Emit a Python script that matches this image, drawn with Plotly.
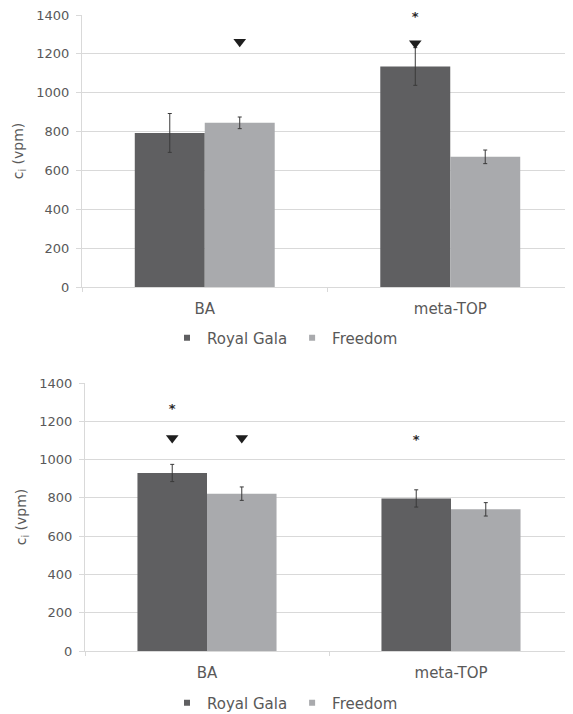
import plotly.graph_objects as go

# ---------------- data ----------------
categories = ["BA", "meta-TOP"]
series_names = ["Royal Gala", "Freedom"]

# top panel
royal_gala_top = [793, 1135]
royal_gala_top_err = [100, 97]
freedom_top = [845, 670]
freedom_top_err = [30, 35]
# significance markers (y positions), None = no marker
tri_rg_top = [None, 1255]
tri_fr_top = [1262, None]
star_rg_top = [None, 1385]

# bottom panel
royal_gala_bot = [930, 797]
royal_gala_bot_err = [45, 45]
freedom_bot = [822, 740]
freedom_bot_err = [35, 35]
tri_rg_bot = [1113, None]
tri_fr_bot = [1113, None]
star_rg_bot = [1260, 1098]

y_ticks = [0, 200, 400, 600, 800, 1000, 1200, 1400]

# ---------------- style ----------------
DARK = "#5f5f61"
LIGHT = "#a9aaad"
GRID = "#d9d9d9"
TXT = "#595959"
FONT = "DejaVu Sans"
BARGAP = 0.43
bar_w = (1 - BARGAP) / 2

xpos = list(range(len(categories)))

fig = go.Figure()


def keep(xs, ys):
    pairs = [(x, y) for x, y in zip(xs, ys) if y is not None]
    return [p[0] for p in pairs], [p[1] for p in pairs]


def add_panel(xa, ya, rg, rg_err, fr, fr_err, tri_rg, tri_fr, star_rg, legend):
    for k, (name, vals, errs, col) in enumerate(
        [(series_names[0], rg, rg_err, DARK), (series_names[1], fr, fr_err, LIGHT)]
    ):
        fig.add_trace(go.Bar(
            x=xpos, y=vals, name=name, marker=dict(color=col, line=dict(width=0)),
            error_y=dict(type="data", array=errs, visible=True, color="#3a3a3a",
                         thickness=1, width=2),
            xaxis=xa, yaxis=ya, showlegend=False, offsetgroup=str(k),
        ))
        # legend entry (small square)
        fig.add_trace(go.Scatter(
            x=[None], y=[None], mode="markers", name=name,
            marker=dict(symbol="square", size=6, color=col),
            xaxis=xa, yaxis=ya, legend=legend, showlegend=True,
        ))
    # significance markers
    for k, tri in enumerate([tri_rg, tri_fr]):
        xs, ys = keep([x + (k - 0.5) * bar_w for x in xpos], tri)
        if xs:
            fig.add_trace(go.Scatter(
                x=xs, y=ys, mode="markers", cliponaxis=False,
                marker=dict(symbol="triangle-down", size=11, color="#1e1e1e"),
                xaxis=xa, yaxis=ya, showlegend=False, hoverinfo="skip",
            ))
    xs, ys = keep([x - 0.5 * bar_w for x in xpos], star_rg)
    fig.add_trace(go.Scatter(
        x=xs, y=ys, mode="text", text=["*"] * len(xs), cliponaxis=False,
        textposition="middle center",
        textfont=dict(family=FONT, size=13, color="#2a2a2a", weight="bold"),
        xaxis=xa, yaxis=ya, showlegend=False, hoverinfo="skip",
    ))


add_panel("x", "y", royal_gala_top, royal_gala_top_err, freedom_top, freedom_top_err,
          tri_rg_top, tri_fr_top, star_rg_top, "legend")
add_panel("x2", "y2", royal_gala_bot, royal_gala_bot_err, freedom_bot, freedom_bot_err,
          tri_rg_bot, tri_fr_bot, star_rg_bot, "legend2")

# page has an 8px body margin, so the figure is 8px smaller than the window
W, H = 565, 706


def xaxis(dom):
    return dict(
        domain=dom, range=[-0.5, len(categories) - 0.5],
        tickmode="array", tickvals=xpos, ticktext=categories,
        ticks="", showgrid=False, zeroline=False,
        showline=True, linecolor=GRID, linewidth=1,
        tickfont=dict(family=FONT, size=15, color=TXT),
        ticklabelstandoff=8, automargin=False,
        minor=dict(tickmode="array", tickvals=[-0.5, 0.5, 1.5], ticks="outside",
                   ticklen=4, tickcolor=GRID, showgrid=False),
        fixedrange=True,
    )


def yaxis(dom):
    return dict(
        domain=dom, range=[0, 1400], tickmode="array", tickvals=y_ticks,
        showgrid=True, gridcolor=GRID, gridwidth=1.3, zeroline=False,
        showline=True, linecolor=GRID, linewidth=1,
        ticks="outside", ticklen=5, tickcolor=GRID,
        tickfont=dict(family=FONT, size=13, color=TXT),
        ticklabelstandoff=4, automargin=False, ticklabeloverflow="allow",
        title=dict(text="c<sub>i</sub> (vpm)", font=dict(family=FONT, size=14, color=TXT),
                   standoff=9),
        fixedrange=True,
    )


fig.update_layout(
    width=W, height=H,
    margin=dict(l=0, r=0, t=0, b=0, autoexpand=False),
    paper_bgcolor="white", plot_bgcolor="white",
    barmode="group", bargap=BARGAP, bargroupgap=0,
    xaxis=xaxis([74 / W, 1.0]),
    yaxis=dict(yaxis([(H - 279) / H, (H - 7) / H]), anchor="x"),
    xaxis2=dict(xaxis([77 / W, 1.0]), anchor="y2"),
    yaxis2=dict(yaxis([(H - 643) / H, (H - 375) / H]), anchor="x2"),
    legend=dict(orientation="h", x=277 / W, y=(H - 330) / H, xanchor="center",
                yanchor="middle", font=dict(family=FONT, size=15, color=TXT),
                bgcolor="rgba(0,0,0,0)"),
    legend2=dict(orientation="h", x=277 / W, y=(H - 695) / H, xanchor="center",
                 yanchor="middle", font=dict(family=FONT, size=15, color=TXT),
                 bgcolor="rgba(0,0,0,0)"),
    showlegend=True,
)

fig.write_html("out.html")
